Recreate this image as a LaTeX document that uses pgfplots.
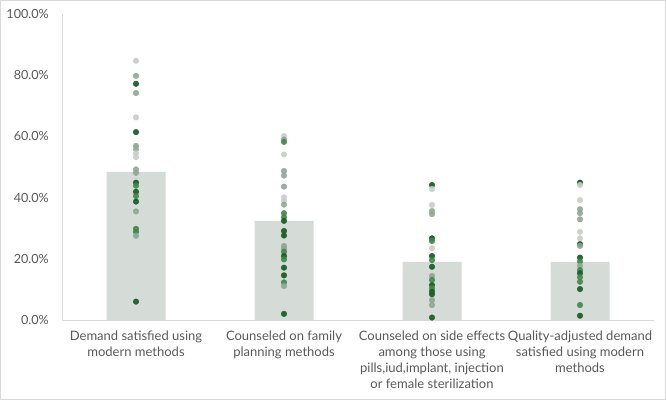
\documentclass[border=0pt]{standalone}
\usepackage{pgfplots}
\pgfplotsset{compat=1.18}
\usepackage{pgfplotstable}
\usepackage{fontspec}
\setmainfont{Lato}
\definecolor{txt}{HTML}{595959}
\definecolor{axl}{HTML}{D9D9D9}
\definecolor{barc}{HTML}{D5DBD6}
\definecolor{dk}{HTML}{1E5E2A}
\definecolor{md}{HTML}{3F874B}
\definecolor{gy}{HTML}{8FA693}
\definecolor{lt}{HTML}{C6CEC7}

\pgfplotstableread{
x y c
0 84.7 l
0 79.8 g
0 77.2 d
0 74.2 g
0 66.2 l
0 61.4 d
0 56.9 g
0 55.8 g
0 54.5 l
0 53.2 l
0 49.2 g
0 48.1 g
0 44.9 d
0 43.9 m
0 41.9 d
0 40.5 m
0 38.7 d
0 35.5 g
0 29.8 m
0 28.8 m
0 27.5 g
0 6.0 d
1 60.1 l
1 59.0 g
1 58.2 m
1 54.1 l
1 48.7 g
1 47.2 g
1 43.6 g
1 40.1 l
1 39.0 l
1 37.7 g
1 34.9 m
1 33.6 m
1 32.4 d
1 29.1 d
1 27.6 d
1 24.2 g
1 23.3 g
1 22.3 m
1 20.9 d
1 19.8 m
1 17.1 d
1 14.6 d
1 12.3 m
1 11.1 g
1 2.0 d
2 44.1 d
2 42.8 l
2 37.6 l
2 35.6 g
2 34.6 g
2 26.7 d
2 25.8 m
2 23.4 l
2 20.9 d
2 19.6 m
2 17.4 d
2 14.4 g
2 13.1 m
2 11.4 d
2 10.3 m
2 9.3 d
2 8.4 d
2 6.5 g
2 4.9 g
2 0.8 d
3 44.9 d
3 44.1 l
3 39.2 l
3 36.2 g
3 34.9 g
3 32.9 g
3 28.8 l
3 26.7 l
3 24.8 d
3 24.2 g
3 20.4 d
3 19.1 m
3 17.7 g
3 16.3 m
3 15.3 d
3 14.0 m
3 12.5 m
3 10.1 d
3 4.9 m
3 1.4 d
}\dots

\begin{document}
\begin{tikzpicture}
\useasboundingbox (0,0) rectangle (666bp,400bp);
\draw[axl, line width=0.8bp] (0.5bp,0.5bp) rectangle (665.5bp,399.5bp);
\begin{axis}[
  at={(62bp,80bp)}, anchor=south west,
  scale only axis, width=592bp, height=306bp,
  xmin=-0.5, xmax=3.5, ymin=0, ymax=100,
  axis x line=bottom, axis y line=left,
  axis line style={axl, line width=0.8bp, -},
  major tick length=0pt,
  xtick={0,1,2,3},
  xticklabels={{Demand satisfied using\\modern methods},{Counseled on family\\planning methods},{Counseled on side effects\\among those using\\pills,iud,implant, injection\\or female sterilization},{Quality-adjusted demand\\satisfied using modern\\methods}},
  xticklabel style={font=\fontsize{13bp}{16bp}\selectfont, text=txt, align=center, anchor=north, inner sep=0pt, yshift=-10.5bp},
  ytick={0,20,40,60,80,100},
  yticklabels={0.0\%,20.0\%,40.0\%,60.0\%,80.0\%,100.0\%},
  yticklabel style={font=\fontsize{12.6bp}{14bp}\selectfont, text=txt, anchor=east, inner sep=0pt, xshift=-13bp},
  clip=false,
]
\addplot[ybar, bar width=59bp, fill=barc, draw=none] coordinates {(0,48.4) (1,32.4) (2,19.0) (3,19.0)};
\addplot[scatter, only marks, scatter src=explicit symbolic,
  scatter/classes={
    l={mark=*, mark size=2.8bp, draw=lt, fill=lt, opacity=0.9},
    g={mark=*, mark size=2.8bp, draw=gy, fill=gy, opacity=0.9},
    m={mark=*, mark size=2.8bp, draw=md, fill=md, opacity=0.9},
    d={mark=*, mark size=2.8bp, draw=dk, fill=dk, opacity=0.95}}
] table[x=x, y=y, meta=c] {\dots};
\end{axis}
\end{tikzpicture}
\end{document}
